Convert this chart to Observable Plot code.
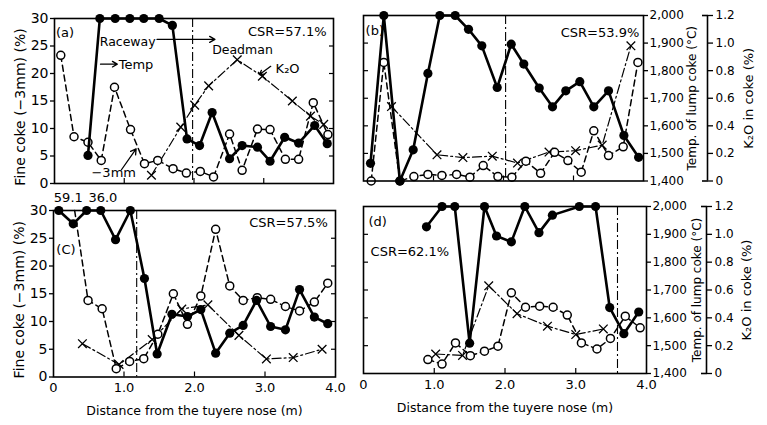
<!DOCTYPE html>
<html><head><meta charset="utf-8">
<script src="https://cdn.jsdelivr.net/npm/d3@7"></script>
<script src="https://cdn.jsdelivr.net/npm/@observablehq/plot@0.6"></script>
<style>
body{margin:0;background:#fff;}
#chart{position:relative;width:767px;height:425px;overflow:hidden;background:#fff;}
#chart svg{position:absolute;background:transparent;}
</style></head><body><div id="chart"></div>
<script>
// ---------- data (distance from tuyere nose, m) ----------
// Panel (a) CSR=57.1%
const distA_fine = [0.09,0.28,0.48,0.67,0.86,1.09,1.29,1.48,1.70,1.89,2.09,2.28,2.51,2.69,2.91,3.09,3.31,3.50,3.71,3.92];
const fineA      = [23.3,8.5,7.5,4.2,17.5,9.8,3.6,4.2,2.7,1.9,2.2,1.2,9.0,2.4,9.9,9.8,4.4,4.4,14.7,8.9];
const distA_temp = [0.48,0.65,0.87,1.08,1.28,1.50,1.69,1.90,2.08,2.26,2.51,2.69,2.91,3.09,3.30,3.50,3.73,3.91];
const tempA      = [1502,2000,2000,2000,2000,2000,1975,1562,1538,1658,1490,1538,1532,1481,1568,1547,1611,1545];
const distA_k2o  = [1.39,1.81,2.01,2.21,2.62,2.98,3.41,3.67,3.86];
const k2oA       = [0.06,0.41,0.57,0.71,0.90,0.78,0.60,0.49,0.43];
// Panel (b) CSR=53.9%
const distB_fine = [0.11,0.29,0.52,0.72,0.92,1.12,1.33,1.52,1.71,1.92,2.12,2.32,2.53,2.73,2.92,3.11,3.29,3.50,3.71,3.92];
const fineB      = [0,21.5,0,0.8,1.2,1.0,1.2,0.7,2.8,0.8,0.7,3.6,1.4,5.2,3.7,1.6,9.1,4.6,6.2,21.5];
const distB_temp = [0.10,0.29,0.52,0.71,0.92,1.09,1.31,1.50,1.69,1.91,2.11,2.29,2.51,2.70,2.89,3.09,3.29,3.50,3.72,3.93];
const tempB      = [1464,2000,1400,1513,1790,2000,2000,1950,1890,1739,1896,1824,1737,1669,1727,1760,1669,1727,1565,1486];
const distB_k2o  = [0.40,1.05,1.42,1.84,2.20,2.65,3.03,3.41,3.82];
const k2oB       = [0.54,0.19,0.17,0.18,0.13,0.21,0.22,0.26,0.98];
// Panel (c) CSR=57.5%
const distC_fine = [0.30,0.49,0.69,0.89,1.08,1.28,1.48,1.70,1.90,2.09,2.30,2.50,2.69,2.89,3.08,3.29,3.49,3.70,3.89];
const fineC      = [59.1,13.8,12.3,1.5,2.8,3.3,7.7,15.0,9.5,14.6,26.6,16.4,13.8,14.3,14.0,12.7,11.9,13.5,16.9];
const distC_temp = [0.075,0.28,0.47,0.67,0.88,1.09,1.29,1.47,1.68,1.90,2.09,2.30,2.50,2.69,2.88,3.08,3.29,3.49,3.70,3.89];
const tempC      = [2000,1952,2000,2000,1895,2000,1755,1483,1626,1618,1643,1486,1558,1586,1676,1582,1570,1715,1616,1592];
const distC_k2o  = [0.41,0.93,1.40,1.82,2.19,2.63,3.02,3.40,3.81];
const k2oC       = [0.24,0.09,0.27,0.49,0.52,0.30,0.13,0.14,0.20];
// Panel (d) CSR=62.1%
const distD_fine = [0.91,1.11,1.30,1.51,1.71,1.90,2.09,2.29,2.49,2.68,2.88,3.08,3.30,3.49,3.70,3.91];
const fineD      = [2.5,1.7,5.5,3.2,4.0,4.9,14.5,11.9,12.1,11.9,10.5,5.5,4.4,6.3,10.3,8.2];
const distD_temp = [0.89,1.11,1.29,1.50,1.71,1.88,2.09,2.28,2.48,2.67,3.05,3.28,3.48,3.68,3.89];
const tempD      = [1927,2000,2000,1509,2000,1894,1873,2000,1906,1969,2000,2000,1637,1543,1621];
const distD_k2o  = [1.02,1.40,1.77,2.17,2.60,3.00,3.39];
const k2oD       = [0.14,0.13,0.63,0.43,0.34,0.28,0.32];

// raceway / deadman boundary (m)
const boundaries = [1.98, 2.03, 1.18, 3.59];
const panelTags  = ["(a)", "(b)", "(C)", "(d)"];
const csrLabels  = ["CSR=57.1%", "CSR=53.9%", "CSR=57.5%", "CSR=62.1%"];
const offScaleC  = ["59.1", "36.0"];

// axes
const fineTicks = [0,5,10,15,20,25,30];
const innerTicks = [5,10,15,20,25];
const tempTicks = [1400,1500,1600,1700,1800,1900,2000];
const k2oTicks  = [0,0.2,0.4,0.6,0.8,1.0,1.2];
const distTicks = [0,1,2,3,4];
const distInner = [1,2,3];
const xTitle = "Distance from the tuyere nose (m)";
const yLeftTitle = "Fine coke (\u22123mm) (%)";
const yTempTitle = "Temp. of lump coke (\u00b0C)";
const yK2OTitle  = "K\u2082O in coke (%)";

// secondary-axis mappings onto the fine-coke scale (0–30 %)
const tempToY = t => (t - 1400) / 20;   // 1400–2000 °C
const k2oToY  = v => v * 25;            // 0–1.2 %

const FONT = "DejaVu Sans, sans-serif";
const dashDot = "9,3,2,3";

function panel(cfg) {
  const tempRows = cfg.tx.map((x,i) => ({x, y: tempToY(cfg.tv[i])}));
  const fineRows = cfg.fx.map((x,i) => ({x, v: cfg.fv[i], y: Math.min(cfg.fv[i], 30)}));
  const k2oRows  = cfg.kx.map((x,i) => ({x, y: k2oToY(cfg.kv[i])}));
  const marks = [
    Plot.ruleX([cfg.boundary], {stroke:"#000", strokeWidth:1.1, strokeDasharray:dashDot}),
    Plot.axisX(distInner, {anchor:"bottom", tickSize:5, dy:-5, tickFormat:() => null, label:null, strokeWidth:1.2}),
    Plot.line(k2oRows, {x:"x", y:"y", stroke:"#000", strokeWidth:1.2, strokeDasharray:dashDot}),
    Plot.dot(k2oRows, {x:"x", y:"y", symbol:"times", r:4, stroke:"#000", strokeWidth:1.3}),
    Plot.line(fineRows, {x:"x", y:"y", stroke:"#000", strokeWidth:1.5, strokeDasharray:"6,4"}),
    Plot.dot(fineRows.filter(d => d.v <= 30), {x:"x", y:"y", r:4, fill:"#fff", stroke:"#000", strokeWidth:1.5}),
    Plot.line(tempRows, {x:"x", y:"y", stroke:"#000", strokeWidth:2.6}),
    Plot.dot(tempRows, {x:"x", y:"y", r:4.6, fill:"#000"}),
    Plot.frame({stroke:"#000", strokeWidth:1.6}),
  ];
  for (const anchor of ["start","middle","end"]) {
    const rows = cfg.texts.filter(d => d.a === anchor);
    if (rows.length) marks.push(Plot.text(rows, {x:"x", y:"y", text:"t", textAnchor:anchor, fontSize:"s", fill:"#000"}));
  }
  if (cfg.arrows) marks.push(Plot.arrow(cfg.arrows, {x1:"x1", y1:"y1", x2:"x2", y2:"y2", stroke:"#000", strokeWidth:1.3, headLength:7}));
  if (cfg.left) {
    marks.push(Plot.axisY(fineTicks, {anchor:"left", tickSize:4, tickPadding:2, fontSize:14, strokeWidth:1.3, label:null}));
    marks.push(Plot.axisY(innerTicks, {anchor:"right", tickSize:5, dx:-5, tickFormat:() => null, label:null, strokeWidth:1.2}));
    marks.push(Plot.text([yLeftTitle], {frameAnchor:"left", rotate:-90, dx:-34, dy:cfg.titleDy, textAnchor:"middle", lineAnchor:"middle", fontSize:14}));
  } else {
    marks.push(Plot.axisY(innerTicks, {anchor:"left", tickSize:5, dx:5, tickFormat:() => null, label:null, strokeWidth:1.2}));
    marks.push(Plot.axisY(tempTicks.map(tempToY), {anchor:"right", tickSize:4, tickPadding:2, fontSize:12, strokeWidth:1.3, label:null,
      tickFormat: d => d3.format(",")(Math.round(d * 20 + 1400))}));
    marks.push(Plot.text([yTempTitle], {frameAnchor:"right", rotate:-90, dx:cfg.tempDx, textAnchor:"middle", lineAnchor:"middle", fontSize:12}));
    marks.push(Plot.ruleX([4], {dx:cfg.k2oDx, stroke:"#000", strokeWidth:1.6}));
    marks.push(Plot.axisY([0,30], {anchor:"right", tickSize:6, dx:cfg.k2oDx - 6, tickFormat:() => null, label:null, strokeWidth:1.6}));
    marks.push(Plot.axisY(k2oTicks.map(k2oToY), {anchor:"right", tickSize:5, tickPadding:3, dx:cfg.k2oDx, fontSize:12, strokeWidth:1.3, label:null,
      tickFormat: d => { const v = d / 25; return Math.abs(v) < 1e-9 ? "0" : v.toFixed(1); }}));
    marks.push(Plot.text([yK2OTitle], {frameAnchor:"right", rotate:-90, dx:cfg.k2oTitleDx, textAnchor:"middle", lineAnchor:"middle", fontSize:13}));
  }
  if (cfg.bottom) {
    marks.push(Plot.axisX(distTicks, {anchor:"bottom", tickSize:0, tickPadding:6, fontSize:13, label:null,
      tickFormat: d => d === 0 ? "0" : d.toFixed(1)}));
    marks.push(Plot.text([xTitle], {frameAnchor:"bottom", dy:34, textAnchor:"middle", lineAnchor:"middle", fontSize:12.5}));
  }
  const svg = Plot.plot({
    width: cfg.w, height: cfg.h,
    marginLeft: cfg.m[0], marginRight: cfg.m[1], marginTop: cfg.m[2], marginBottom: cfg.m[3],
    x: {domain:[0,4], axis:null},
    y: {domain:[0,30], axis:null},
    style: {fontFamily: FONT, background:"transparent", color:"#000", overflow:"visible"},
    marks
  });
  svg.style.left = cfg.left0 + "px";
  svg.style.top = cfg.top0 + "px";
  return svg;
}

const chart = document.getElementById("chart");
const T = (x,y,t,a="start",s=13) => ({x,y,t,a,s});

chart.appendChild(panel({
  left0:0, top0:0, w:345, h:195, m:[54,12,18,12], left:true, bottom:false, titleDy:6,
  fx:distA_fine, fv:fineA, tx:distA_temp, tv:tempA, kx:distA_k2o, kv:k2oA, boundary:boundaries[0],
  texts:[T(0.02,27.4,panelTags[0]), T(3.9,27.6,csrLabels[0],"end"), T(1.45,25.8,"Raceway","end",12.5),
         T(2.26,24.2,"Deadman","start",12.5), T(0.92,21.5,"Temp"), T(3.17,20.9,"K\u2082O"), T(0.53,2.0,"\u22123mm")],
  arrows:[{x1:1.47,y1:26.2,x2:2.30,y2:26.2},{x1:0.66,y1:21.7,x2:0.9,y2:21.7},
          {x1:3.1,y1:21.3,x2:2.94,y2:19.8},{x1:0.96,y1:2.5,x2:1.17,y2:6.3}]
}));
chart.appendChild(panel({
  left0:345, top0:0, w:422, h:195, m:[18,124,15,14.5], left:false, bottom:false,
  tempDx:49, k2oDx:64, k2oTitleDx:105,
  fx:distB_fine, fv:fineB, tx:distB_temp, tv:tempB, kx:distB_k2o, kv:k2oB, boundary:boundaries[1],
  texts:[T(0.03,27.2,panelTags[1]), T(3.94,26.9,csrLabels[1],"end")]
}));
chart.appendChild(panel({
  left0:0, top0:185, w:345, h:240, m:[53,10,25,48.5], left:true, bottom:true, titleDy:6,
  fx:distC_fine, fv:fineC, tx:distC_temp, tv:tempC, kx:distC_k2o, kv:k2oC, boundary:boundaries[2],
  texts:[T(0.04,23,panelTags[2]), T(3.89,27.8,csrLabels[2],"end"),
         T(0.21,32.2,offScaleC[0],"middle"), T(0.70,32.2,offScaleC[1],"middle")]
}));
chart.appendChild(panel({
  left0:345, top0:185, w:422, h:240, m:[18,121,21,52], left:false, bottom:true,
  tempDx:51, k2oDx:60, k2oTitleDx:100,
  fx:distD_fine, fv:fineD, tx:distD_temp, tv:tempD, kx:distD_k2o, kv:k2oD, boundary:boundaries[3],
  texts:[T(0.07,27.2,panelTags[3]), T(0.1,21.9,csrLabels[3])]
}));
</script></body></html>
